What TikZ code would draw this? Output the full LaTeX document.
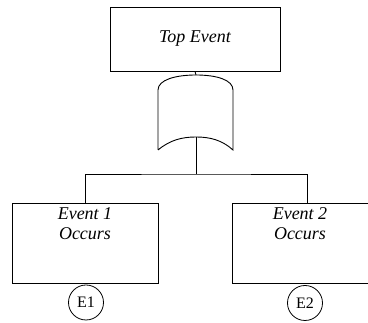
\documentclass[tikz,border=0pt]{standalone}
\usepackage{fontspec}
\setmainfont{Liberation Serif}
\usetikzlibrary{positioning,calc}

\begin{document}
\begin{tikzpicture}[
    x=1pt, y=-1pt,
    box/.style={draw, line width=0.9pt, inner sep=0pt},
    txt/.style={font=\fontsize{18}{20}\selectfont\itshape, align=center},
    tag/.style={draw, circle, line width=0.8pt, minimum size=35pt, inner sep=0pt, font=\fontsize{16}{18}\selectfont},
    wire/.style={line width=0.9pt}
]
\useasboundingbox (0,0) rectangle (368,323);
\clip (0,0) rectangle (368,323);

% top event
\node[box, txt, minimum width=170pt, minimum height=64pt] (top) at (195,39) {Top Event};

% or gate
\coordinate (gin) at (196,75);
\coordinate (gout) at (196,137);
\draw[wire] (158,150) -- (158,90) .. controls (158,80) and (175,75) .. (gin)
    .. controls (217,75) and (233,80) .. (233,90) -- (233,150)
    .. controls (222,140) and (210,137) .. (gout)
    .. controls (182,137) and (170,140) .. (158,150);

% basic events
\node[box, minimum width=146pt, minimum height=80pt] (ev1) at (85,243) {};
\node[box, minimum width=150pt, minimum height=80pt] (ev2) at (307,243) {};
\node[txt, below=2pt of ev1.north] (ev1txt) {Event 1\\Occurs};
\node[txt, below=2pt of ev2.north, xshift=-7pt] (ev2txt) {Event 2\\Occurs};

\node[tag] (e1) at (86,302.5) {E1};
\node[tag] (e2) at (305,303) {E2};

\coordinate (bus) at (196,174);
\draw[wire] (top.south) -- (gin);
\draw[wire] (gout) -- (bus);
\draw[wire] (ev1.north) |- (bus) -| (ev2.north);
\end{tikzpicture}
\end{document}
